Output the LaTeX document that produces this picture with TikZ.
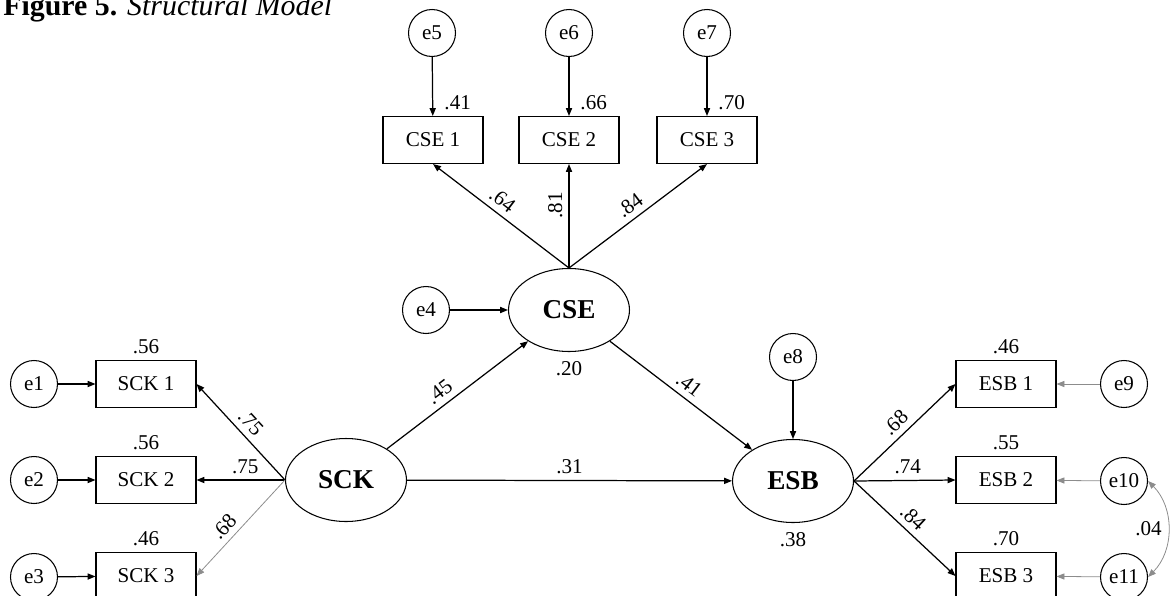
\documentclass[tikz,border=0pt]{standalone}
\usepackage{fontspec}
\setmainfont{Liberation Serif}
\usetikzlibrary{shapes.geometric, arrows.meta, positioning}

\tikzset{
  errc/.style={circle, draw, line width=0.6pt, minimum size=0.94cm, inner sep=0pt, font=\fontsize{12}{14}\selectfont},
  obsbox/.style={rectangle, draw, line width=0.6pt, minimum width=2cm, minimum height=0.94cm, font=\fontsize{12}{14}\selectfont},
  latent/.style={ellipse, draw, line width=0.6pt, minimum width=2.42cm, minimum height=1.66cm, font=\fontsize{15.5}{18}\selectfont\bfseries},
  coef/.style={font=\fontsize{12}{14}\selectfont},
  path/.style={-{Triangle[length=4.5pt, width=3.5pt]}, line width=0.7pt},
  faint/.style={path, draw=black!45, line width=0.45pt}
}

\begin{document}
\begin{tikzpicture}[x=0.02cm, y=-0.02cm]
      \useasboundingbox (0,0) rectangle (1172,595);

      % Title
      \node[anchor=base west, inner sep=0pt, font=\fontsize{17}{20}\selectfont] (title) at (3,15) {\textbf{Figure 5.} \textit{Structural Model}};

      % Latent variables
      \node[latent] (sck) at (346,480) {SCK};
      \node[latent] (cse) at (569,310) {CSE};
      \node[latent] (esb) at (793,481) {ESB};

      % SCK indicators
      \node[obsbox] (sck1) at (146,384) {SCK 1};
      \node[obsbox] (sck2) at (146,480) {SCK 2};
      \node[obsbox] (sck3) at (146,576) {SCK 3};
      \node[errc] (e1) at (34,384) {e1};
      \node[errc] (e2) at (34,480) {e2};
      \node[errc] (e3) at (34,577) {e3};

      % CSE indicators
      \node[obsbox] (cse1) at (433,140) {CSE 1};
      \node[obsbox] (cse2) at (569,140) {CSE 2};
      \node[obsbox] (cse3) at (707,140) {CSE 3};
      \node[errc] (e5) at (432,33) {e5};
      \node[errc] (e6) at (569,33) {e6};
      \node[errc] (e7) at (707,33) {e7};
      \node[errc] (e4) at (426,310) {e4};

      % ESB indicators
      \node[obsbox] (esb1) at (1006,384) {ESB 1};
      \node[obsbox] (esb2) at (1006,480) {ESB 2};
      \node[obsbox] (esb3) at (1006,576) {ESB 3};
      \node[errc] (e8) at (793,357) {e8};
      \node[errc] (e9) at (1124,384) {e9};
      \node[errc] (e10) at (1124,481) {e10};
      \node[errc] (e11) at (1124,577) {e11};

      % Error arrows
      \draw[path] (e1) -- (sck1);
      \draw[path] (e2) -- (sck2);
      \draw[path] (e3) -- (sck3);
      \draw[path] (e4) -- (cse);
      \draw[path] (e5) -- (cse1);
      \draw[path] (e6) -- (cse2);
      \draw[path] (e7) -- (cse3);
      \draw[path] (e8) -- (esb);
      \draw[faint] (e9) -- (esb1);
      \draw[faint] (e10) -- (esb2);
      \draw[faint] (e11) -- (esb3);
      \draw[faint, {Triangle[length=4.5pt, width=3.5pt]}-{Triangle[length=4.5pt, width=3.5pt]}] (e10.east) to[bend left=45] node[coef, left] {.04} (e11.east);

      % Loadings
      \draw[path] (sck.west) -- (sck1.east) node[coef, midway, sloped, above] {.75};
      \draw[path] (sck.west) -- (sck2.east) node[coef, pos=0.45, above] {.75};
      \draw[faint] (sck.west) -- (sck3.east) node[coef, pos=0.58, sloped, above] {.68};
      \draw[path] (cse.north) -- (cse1.south) node[coef, pos=0.55, sloped, above] {.64};
      \draw[path] (cse.north) -- (cse2.south) node[coef, pos=0.6, sloped, above] {.81};
      \draw[path] (cse.north) -- (cse3.south) node[coef, pos=0.5, sloped, above] {.84};
      \draw[path] (esb.east) -- (esb1.west) node[coef, midway, sloped, above] {.68};
      \draw[path] (esb.east) -- (esb2.west) node[coef, pos=0.53, above] {.74};
      \draw[path] (esb.east) -- (esb3.west) node[coef, pos=0.49, sloped, above] {.84};

      % Structural paths
      \draw[path] (sck) -- (cse) node[coef, pos=0.43, sloped, above] {.45};
      \draw[path] (cse) -- (esb) node[coef, midway, sloped, above] {.41};
      \draw[path] (sck) -- (esb) node[coef, midway, above] {.31};

      % Squared multiple correlations
      \node[coef, above=0pt of sck1] (r1) {.56};
      \node[coef, above=0pt of sck2] (r2) {.56};
      \node[coef, above=0pt of sck3] (r3) {.46};
      \node[coef, above right=0pt and 3pt of cse1.north] (r5) {.41};
      \node[coef, above right=0pt and 3pt of cse2.north] (r6) {.66};
      \node[coef, above right=0pt and 3pt of cse3.north] (r7) {.70};
      \node[coef, above=0pt of esb1] (r9) {.46};
      \node[coef, above=0pt of esb2] (r10) {.55};
      \node[coef, above=0pt of esb3] (r11) {.70};
      \node[coef, below=2pt of cse] (rcse) {.20};
      \node[coef, below=2pt of esb] (resb) {.38};
    \end{tikzpicture}
\end{document}
